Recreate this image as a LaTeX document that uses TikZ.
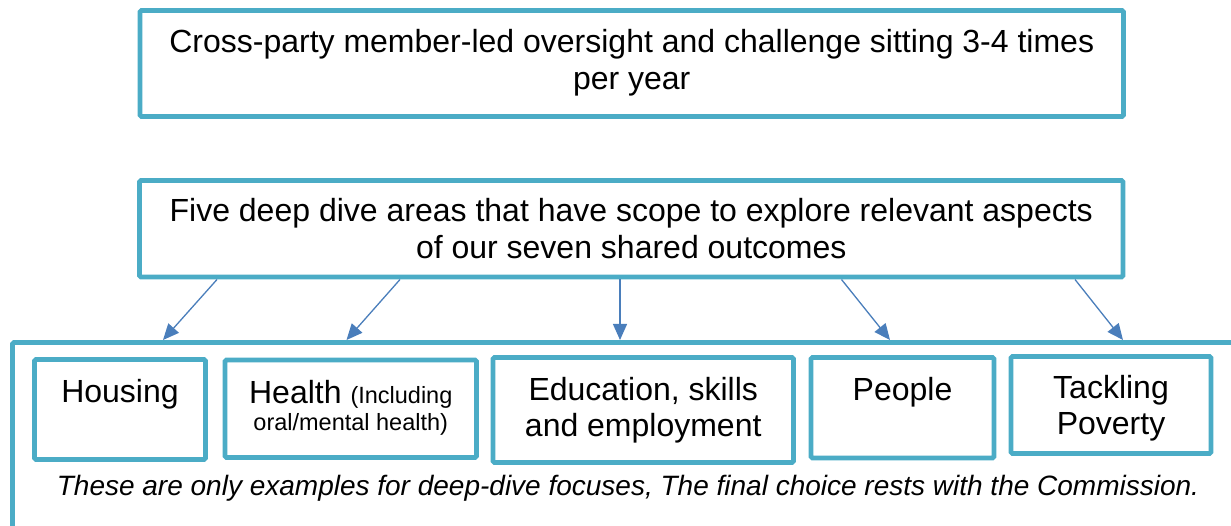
\documentclass[tikz,border=0pt]{standalone}
\usepackage{fontspec}
\setmainfont{Liberation Sans}
\usetikzlibrary{arrows.meta,calc}
\definecolor{boxc}{HTML}{4BACC6}
\definecolor{arrc}{HTML}{4A7EBB}
\newcommand{\bigf}{\fontsize{32}{36.5}\selectfont}
\newcommand{\smallf}{\fontsize{23.5}{27}\selectfont}
\newcommand{\notef}{\fontsize{28}{32}\selectfont\itshape}
\newcommand{\twoline}[2]{\begin{tabular}[t]{@{}c@{}}#1\\#2\end{tabular}}
\tikzset{
  box/.style={draw=boxc, line width=4.8pt, rounded corners=1.5pt, fill=white, inner sep=0pt},
  txt/.style={inner sep=0pt, anchor=base, font=\bigf},
  arr/.style={draw=arrc, line width=1.3pt, -{Triangle[length=16pt,width=14pt]}}
}
\begin{document}
\begin{tikzpicture}[x=1pt,y=-1pt]
\useasboundingbox (0,0) rectangle (1231,526);
\clip (0,0) rectangle (1231,526);
% outer frame (cut off at the right and bottom)
\draw[draw=boxc, line width=4.8pt, rounded corners=1.5pt] (12.5,560) |- (1260,342.5);
% top boxes
\node[box, minimum width=983.5pt, minimum height=106pt] (top) at (631.75,63.5) {};
\node[txt] (toptxt) at (631.75,53) {\twoline{Cross-party member-led oversight and challenge sitting 3-4 times}{per year}};
\node[box, minimum width=983.5pt, minimum height=96.5pt] (five) at (631.25,228.75) {};
\node[txt] (fivetxt) at (631.25,222) {\twoline{Five deep dive areas that have scope to explore relevant aspects}{of our seven shared outcomes}};
% area boxes
\node[box, minimum width=171pt, minimum height=100pt] (housing) at (120,409.5) {};
\node[txt] (housingtxt) at (120,402) {Housing};
\node[box, minimum width=251.5pt, minimum height=97.5pt] (health) at (350.75,408.75) {};
\node[txt] (healthtxt) at (350.75,403) {\begin{tabular}[t]{@{}c@{}}Health {\smallf (Including}\\[-9.5pt]{\smallf oral/mental health)}\end{tabular}};
\node[box, minimum width=300.5pt, minimum height=105pt] (edu) at (643.25,410) {};
\node[txt] (edutxt) at (643.25,400) {\twoline{Education, skills}{and employment}};
\node[box, minimum width=183pt, minimum height=100.5pt] (people) at (902.5,407.75) {};
\node[txt] (peopletxt) at (902.5,400) {People};
\node[box, minimum width=200pt, minimum height=97pt] (poverty) at (1111,405) {};
\node[txt] (povertytxt) at (1111,398) {\twoline{Tackling}{Poverty}};
\node[txt, font=\notef] (note) at (628,495) {These are only examples for deep-dive focuses, The final choice rests with the Commission.};
% arrows
\coordinate (s1) at (217,279.5);  \coordinate (e1) at (163,340);
\coordinate (s2) at (400,279.5);  \coordinate (e2) at (346.5,340);
\coordinate (s3) at (620,279.5);  \coordinate (e3) at (620,340);
\coordinate (s4) at (841.5,279.5);\coordinate (e4) at (890,340);
\coordinate (s5) at (1075,279.5); \coordinate (e5) at (1123,340);
\draw[arr] (s1) -- (e1);
\draw[arr] (s2) -- (e2);
\draw[arr] (s3) -- (e3);
\draw[arr] (s4) -- (e4);
\draw[arr] (s5) -- (e5);
\end{tikzpicture}
\end{document}
